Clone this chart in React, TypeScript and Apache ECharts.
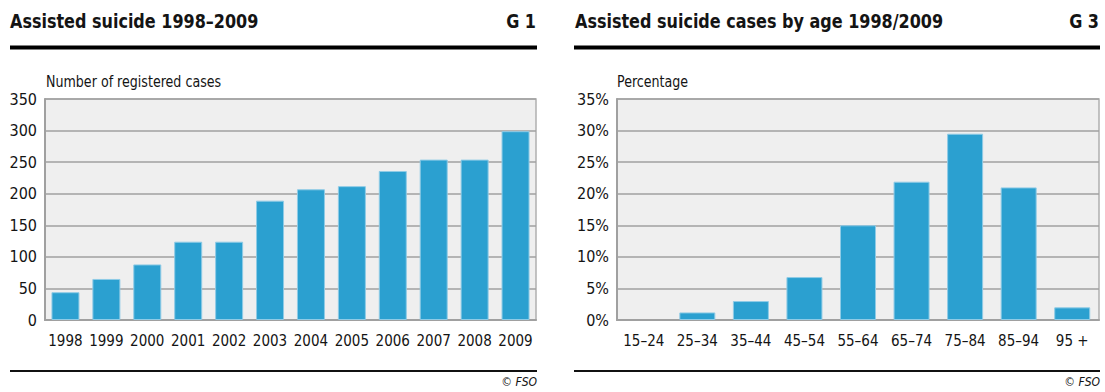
import React, { useEffect, useRef } from "react";
import * as echarts from "echarts";

const years = ["1998", "1999", "2000", "2001", "2002", "2003", "2004", "2005", "2006", "2007", "2008", "2009"];
const cases = [44, 65, 88, 124, 124, 189, 207, 212, 236, 254, 254, 299];
const ageGroups = ["15–24", "25–34", "35–44", "45–54", "55–64", "65–74", "75–84", "85–94", "95 +"];
const agePct = [0, 1.2, 3.0, 6.8, 15.0, 21.9, 29.5, 21.0, 2.0];
const titleLeft = "Assisted suicide 1998–2009";
const titleRight = "Assisted suicide cases by age 1998/2009";
const subLeft = "Number of registered cases";
const subRight = "Percentage";

const FONT = "'DejaVu Sans Condensed', 'DejaVu Sans', sans-serif";
const TXT = "#141414";
const BAR = "#2ba0d0";
const GRIDC = "#a0a0a0";

export default function App() {
  const ref = useRef<HTMLDivElement>(null);
  useEffect(() => {
    if (!ref.current) return;
    const chart = echarts.init(ref.current, null, { renderer: "svg" });
    const yAxisBase = (max: number, fmt?: string) => ({
      type: "value" as const,
      min: 0,
      max,
      interval: max / 7,
      axisLine: { show: true, lineStyle: { color: GRIDC, width: 2 } },
      axisTick: { show: false },
      splitLine: { show: true, lineStyle: { color: GRIDC, width: 1.5 } },
      axisLabel: { color: TXT, fontFamily: FONT, fontSize: 16, margin: 8, formatter: fmt || "{value}" },
    });
    const xAxisBase = (data: string[]) => ({
      type: "category" as const,
      data,
      axisLine: { show: true, lineStyle: { color: GRIDC, width: 2 } },
      axisTick: { show: false },
      axisLabel: { color: TXT, fontFamily: FONT, fontSize: 15, margin: 13, interval: 0 },
    });
    const barStyle = { color: BAR, borderColor: "#8fcbe6", borderWidth: 1 };
    const ageData = agePct.map((v) => (v === 0 ? { value: v, itemStyle: { borderWidth: 0 } } : v));
    const title = (text: string, x: number, align: string) => ({
      type: "text",
      x,
      y: 0,
      scaleX: 0.89,
      style: { text, x: 0, y: 21, align, verticalAlign: "middle", fontFamily: FONT, fontSize: 20, fontWeight: "bold", fill: TXT },
    });
    const sub = (text: string, x: number) => ({
      type: "text",
      x,
      y: 0,
      scaleX: 0.88,
      style: { text, x: 0, y: 82, align: "left", verticalAlign: "middle", fontFamily: FONT, fontSize: 16, fill: TXT },
    });
    chart.setOption({
      animation: false,
      grid: [
        { left: 45, top: 99, width: 491, height: 221, show: true, backgroundColor: "#efefef", borderColor: "#b0b0b0", borderWidth: 1.5 },
        { left: 617, top: 99, width: 482, height: 221, show: true, backgroundColor: "#efefef", borderColor: "#b0b0b0", borderWidth: 1.5 },
      ],
      xAxis: [
        { ...xAxisBase(years), gridIndex: 0 },
        { ...xAxisBase(ageGroups), gridIndex: 1 },
      ],
      yAxis: [
        { ...yAxisBase(350), gridIndex: 0 },
        { ...yAxisBase(35, "{value}%"), gridIndex: 1 },
      ],
      series: [
        { type: "bar", xAxisIndex: 0, yAxisIndex: 0, data: cases, barWidth: 28, itemStyle: barStyle },
        { type: "bar", xAxisIndex: 1, yAxisIndex: 1, data: ageData, barWidth: 36, itemStyle: barStyle },
      ],
      graphic: [
        title(titleLeft, 10, "left"),
        title("G 1", 536, "right"),
        title(titleRight, 575, "left"),
        title("G 3", 1099, "right"),
        { type: "line", shape: { x1: 10, y1: 47.5, x2: 537, y2: 47.5 }, style: { stroke: "#000", lineWidth: 4 } },
        { type: "line", shape: { x1: 574, y1: 47.5, x2: 1100, y2: 47.5 }, style: { stroke: "#000", lineWidth: 4 } },
        sub(subLeft, 46),
        sub(subRight, 617),
        { type: "line", shape: { x1: 10, y1: 371, x2: 537, y2: 371 }, style: { stroke: "#111", lineWidth: 2 } },
        { type: "line", shape: { x1: 574, y1: 371, x2: 1100, y2: 371 }, style: { stroke: "#111", lineWidth: 2 } },
        { type: "text", right: 1105 - 537, top: 376, style: { text: "© FSO", fontFamily: FONT, fontSize: 12, fontStyle: "italic", fill: TXT } },
        { type: "text", right: 5, top: 376, style: { text: "© FSO", fontFamily: FONT, fontSize: 12, fontStyle: "italic", fill: TXT } },
      ],
    });
    return () => chart.dispose();
  }, []);
  return <div ref={ref} style={{ position: "fixed", left: 0, top: 0, width: 1105, height: 392, background: "#fff" }} />;
}
